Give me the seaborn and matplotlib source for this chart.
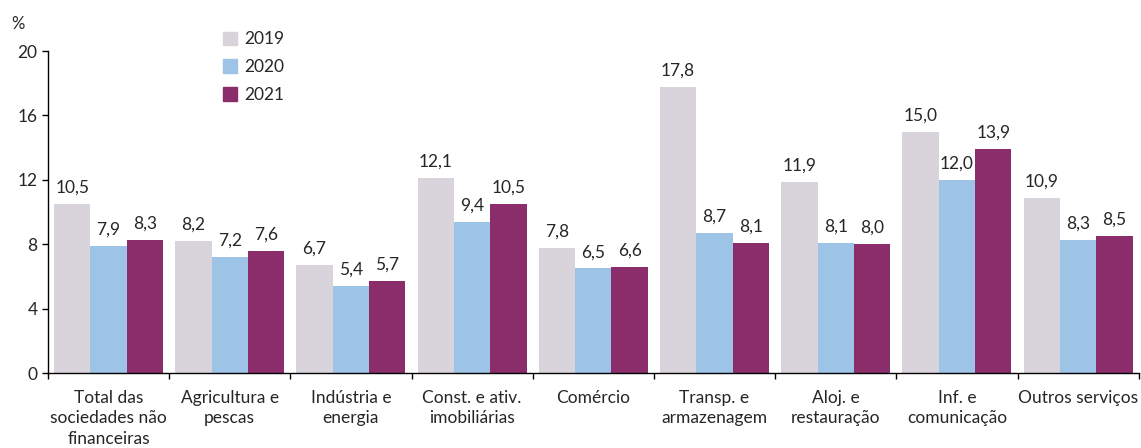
import matplotlib
matplotlib.use("Agg")
import matplotlib.pyplot as plt
import seaborn as sns
import pandas as pd
import numpy as np

categories = ["Total das\nsociedades não\nfinanceiras", "Agricultura e\npescas", "Indústria e\nenergia",
              "Const. e ativ.\nimobiliárias", "Comércio", "Transp. e\narmazenagem", "Aloj. e\nrestauração",
              "Inf. e\ncomunicação", "Outros serviços"]
years = ["2019", "2020", "2021"]
v2019 = [10.5, 8.2, 6.7, 12.1, 7.8, 17.8, 11.9, 15.0, 10.9]
v2020 = [7.9, 7.2, 5.4, 9.4, 6.5, 8.7, 8.1, 12.0, 8.3]
v2021 = [8.3, 7.6, 5.7, 10.5, 6.6, 8.1, 8.0, 13.9, 8.5]
colors = ["#D9D3DB", "#9DC3E6", "#8B2D6B"]

rows = []
for y, vals in zip(years, [v2019, v2020, v2021]):
    for c, v in zip(categories, vals):
        rows.append({"cat": c, "year": y, "val": v})
df = pd.DataFrame(rows)

sns.set_style("white")
plt.rcParams['font.family'] = ['Lato', 'DejaVu Sans']

fig = plt.figure(figsize=(11.41, 4.48), dpi=100)
ax = fig.add_axes([0.042, 0.167, 0.956, 0.719])
sns.barplot(data=df, x="cat", y="val", hue="year", palette=colors, width=0.9,
            gap=0, ax=ax, legend=False, saturation=1, linewidth=0, edgecolor="none")

for cont in ax.containers:
    ax.bar_label(cont, labels=[f"{b.get_height():.1f}".replace(".", ",") for b in cont],
                 padding=6, fontsize=12.5)

ax.set_ylim(0, 20)
ax.set_yticks([0, 4, 8, 12, 16, 20])
ax.set_xlim(-0.5, len(categories) - 0.5)
ax.set_xticks(np.arange(len(categories)))
ax.set_xticklabels(categories, fontsize=12.5, linespacing=1.35)
ax.set_xticks(np.arange(len(categories) + 1) - 0.5, minor=True)
ax.tick_params(axis="x", which="major", length=0, pad=12)
ax.tick_params(axis="x", which="minor", length=4, width=1, direction="out", color="black", bottom=True)
ax.tick_params(axis="y", length=4, width=1, direction="out", color="black", left=True, labelsize=12.5)
ax.set_xlabel("")
ax.set_ylabel("")
for s in ["top", "right"]:
    ax.spines[s].set_visible(False)
for s in ["left", "bottom"]:
    ax.spines[s].set_color("black")
    ax.spines[s].set_linewidth(1)

fig.text(0.010, 0.935, "%", fontsize=12)

from matplotlib.patches import Patch
handles = [Patch(color=c, label=y) for c, y in zip(colors, years)]
fig.legend(handles=handles, loc="upper left", bbox_to_anchor=(0.182, 0.965), frameon=False,
           fontsize=12.5, handlelength=0.8, handleheight=0.8, handletextpad=0.4, labelspacing=0.68)

fig.savefig("out.png", dpi=100)
